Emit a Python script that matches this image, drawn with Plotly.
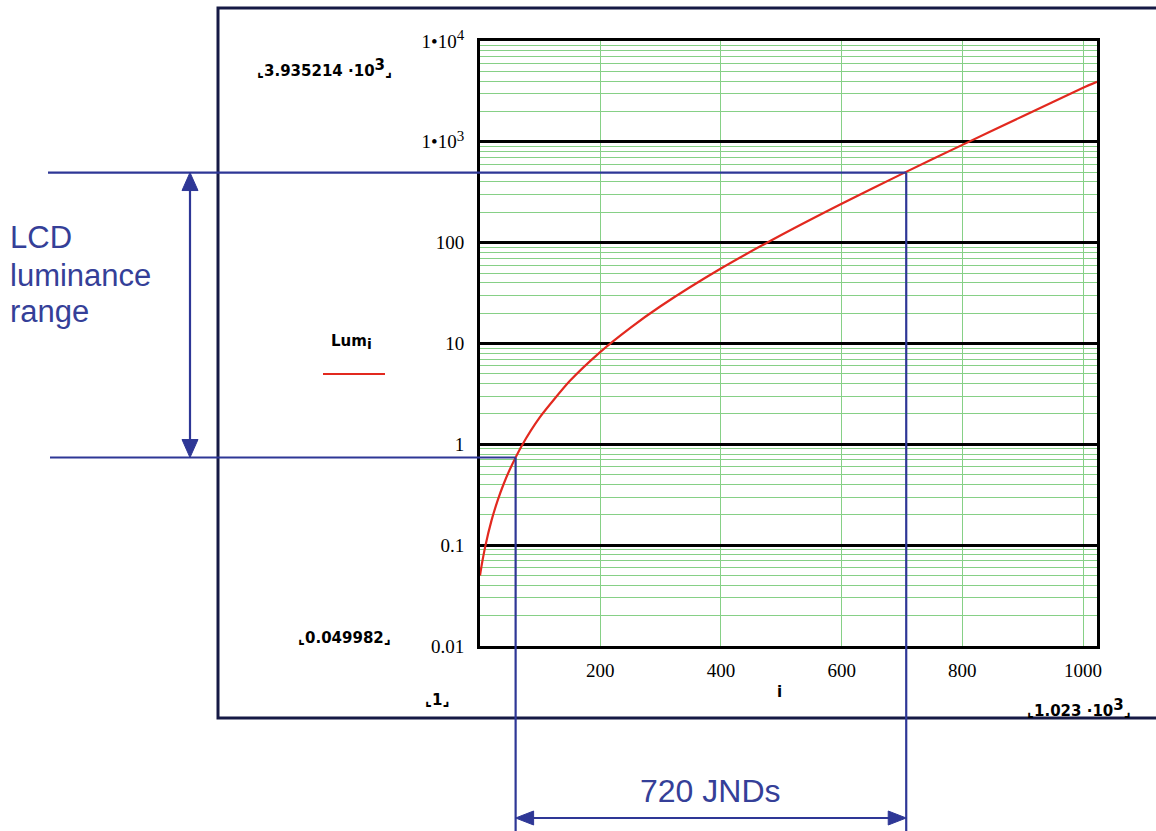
import math
import plotly.graph_objects as go

# ---- data (DICOM-like grayscale curve) ----
jnd_index = [1, 2, 3, 5, 10, 20, 30, 40, 50, 70, 100, 150, 200, 250, 300,
             400, 500, 600, 700, 800, 900, 1000, 1023]
luminance = [0.049982, 0.0547, 0.0594, 0.0696, 0.099, 0.175, 0.275, 0.402,
             0.557, 0.964, 1.85, 4.26, 8.22, 14.3, 23.4, 55.4, 119, 243,
             481, 933, 1796, 3436, 3935.214]

x_ticks = [200, 400, 600, 800, 1000]
y_ticks = [0.01, 0.1, 1, 10, 100, 1000, 10000]
y_ticktext = ["0.01", "0.1", "1", "10", "100",
              "1•10<sup><span style='font-size:15px'>3</span></sup>",
              "1•10<sup><span style='font-size:15px'>4</span></sup>"]
y_minor = [k * 10.0 ** d for d in range(-2, 4) for k in range(2, 10)]

# LCD range markers (JND index / luminance)
lcd_low = (60, 0.74)
lcd_high = (707, 496)
jnd_label = "720 JNDs"

# ---- layout geometry (pixels in a 1156x831 figure) ----
W, H = 1156, 831
PL, PR, PT, PB = 480, 1097, 41, 646
X_RANGE = (1, 1023)
Y_RANGE = (-2, 4)


def px(x):
    return (x - PL) / (PR - PL)


def py(y):
    return (PB - y) / (PB - PT)


def dx(i):
    return (i - X_RANGE[0]) / (X_RANGE[1] - X_RANGE[0])


def dy(v):
    return (math.log10(v) - Y_RANGE[0]) / (Y_RANGE[1] - Y_RANGE[0])


BLUE = "#2e3796"
TXTBLUE = "#353f98"
NAVY = "#161a45"
GREEN = "#86d086"
RED = "#e2291f"

fig = go.Figure()
fig.add_trace(go.Scatter(x=jnd_index, y=luminance, mode="lines",
                         line=dict(color=RED, width=2.2, shape="spline", smoothing=0.6),
                         showlegend=False, hoverinfo="skip"))

serif = dict(family="Liberation Serif, Times New Roman, serif", size=19, color="black")

fig.update_xaxes(range=list(X_RANGE), tickmode="array", tickvals=x_ticks,
                 showgrid=True, gridcolor=GREEN, gridwidth=1,
                 showline=True, linecolor="black", linewidth=3, mirror=True,
                 ticks="", zeroline=False, tickfont=serif, ticklabelstandoff=5)
fig.update_yaxes(type="log", range=list(Y_RANGE), tickmode="array",
                 tickvals=y_ticks, ticktext=y_ticktext,
                 showgrid=True, gridcolor="black", gridwidth=2.5,
                 minor=dict(tickmode="array", tickvals=y_minor, showgrid=True,
                            gridcolor=GREEN, gridwidth=1, ticks=""),
                 showline=True, linecolor="black", linewidth=3, mirror=True,
                 ticks="", zeroline=False, tickfont=serif, ticklabelstandoff=9)

shapes = []
# outer Mathcad frame
shapes.append(dict(type="rect", xref="paper", yref="paper",
                   x0=px(218), x1=px(1175), y0=py(718), y1=py(8),
                   line=dict(color=NAVY, width=3)))
# legend line
shapes.append(dict(type="line", xref="paper", yref="paper",
                   x0=px(323), x1=px(385), y0=py(374), y1=py(374),
                   line=dict(color=RED, width=2.2)))

xl, yl = dx(lcd_low[0]), dy(lcd_low[1])
xh, yh = dx(lcd_high[0]), dy(lcd_high[1])
bline = dict(color=BLUE, width=2.2)
# horizontal guide lines
shapes.append(dict(type="line", xref="paper", yref="paper", x0=px(48), x1=xh, y0=yh, y1=yh, line=bline))
shapes.append(dict(type="line", xref="paper", yref="paper", x0=px(50), x1=xl, y0=yl, y1=yl, line=bline))
# vertical guide lines
shapes.append(dict(type="line", xref="paper", yref="paper", x0=xl, x1=xl, y0=yl, y1=py(840), line=bline))
shapes.append(dict(type="line", xref="paper", yref="paper", x0=xh, x1=xh, y0=yh, y1=py(840), line=bline))

# vertical double arrow
ax_px = 190
top_px = PB - yh * (PB - PT)
bot_px = PB - yl * (PB - PT)
shapes.append(dict(type="line", xref="paper", yref="paper", x0=px(ax_px), x1=px(ax_px),
                   y0=py(top_px + 15), y1=py(bot_px - 15), line=bline))


def tri(points):
    p = "M " + " L ".join(f"{px(a):.5f},{py(b):.5f}" for a, b in points) + " Z"
    return dict(type="path", xref="paper", yref="paper", path=p,
                fillcolor=BLUE, line=dict(color=BLUE, width=1))


shapes.append(tri([(ax_px, top_px), (ax_px - 8, top_px + 18), (ax_px + 8, top_px + 18)]))
shapes.append(tri([(ax_px, bot_px), (ax_px - 8, bot_px - 18), (ax_px + 8, bot_px - 18)]))

# horizontal double arrow
ay_px = 818
left_px = PL + xl * (PR - PL)
right_px = PL + xh * (PR - PL)
shapes.append(dict(type="line", xref="paper", yref="paper", x0=px(left_px + 15), x1=px(right_px - 15),
                   y0=py(ay_px), y1=py(ay_px), line=bline))
shapes.append(tri([(left_px, ay_px), (left_px + 18, ay_px - 7), (left_px + 18, ay_px + 7)]))
shapes.append(tri([(right_px, ay_px), (right_px - 18, ay_px - 7), (right_px - 18, ay_px + 7)]))

mc = dict(family="DejaVu Sans, Verdana, sans-serif", size=15, color="black", weight="bold")
sup3 = "<sup><span style='font-size:15px'>3</span></sup>"
annotations = [
    dict(x=px(255), y=py(68), text="⌞3.935214 ·10" + sup3 + "⌟", xanchor="left", yanchor="middle", font=mc),
    dict(x=px(296), y=py(638), text="⌞0.049982⌟", xanchor="left", yanchor="middle", font=mc),
    dict(x=px(423), y=py(700), text="⌞1⌟", xanchor="left", yanchor="middle", font=mc),
    dict(x=px(779), y=py(692), text="i", xanchor="center", yanchor="middle", font=mc),
    dict(x=px(1025), y=py(708), text="⌞1.023 ·10" + sup3 + "⌟", xanchor="left", yanchor="middle", font=mc),
    dict(x=px(329), y=py(342), text="Lum<sub><span style='font-size:14px'>i</span></sub>",
         xanchor="left", yanchor="middle", font=mc),
]
big = dict(family="Liberation Sans, Arial, sans-serif", size=31, color=TXTBLUE)
for txt, yb in [("LCD", 237), ("luminance", 275), ("range", 311)]:
    annotations.append(dict(x=px(8), y=py(yb), text=txt, xanchor="left", yanchor="middle", font=big))
annotations.append(dict(x=(xl + xh) / 2, y=py(791), text=jnd_label, xanchor="center",
                        yanchor="middle", font=dict(family="Liberation Sans, Arial, sans-serif",
                                                    size=32, color=TXTBLUE)))
for a in annotations:
    a.update(xref="paper", yref="paper", showarrow=False)

fig.update_layout(width=W, height=H, margin=dict(l=PL, r=W - PR, t=PT, b=H - PB, pad=0),
                  paper_bgcolor="white", plot_bgcolor="white",
                  shapes=shapes, annotations=annotations, showlegend=False)

fig.write_html("out.html", config={"displayModeBar": False},
               post_script="document.body.style.margin='0';document.body.style.overflow='hidden';")
